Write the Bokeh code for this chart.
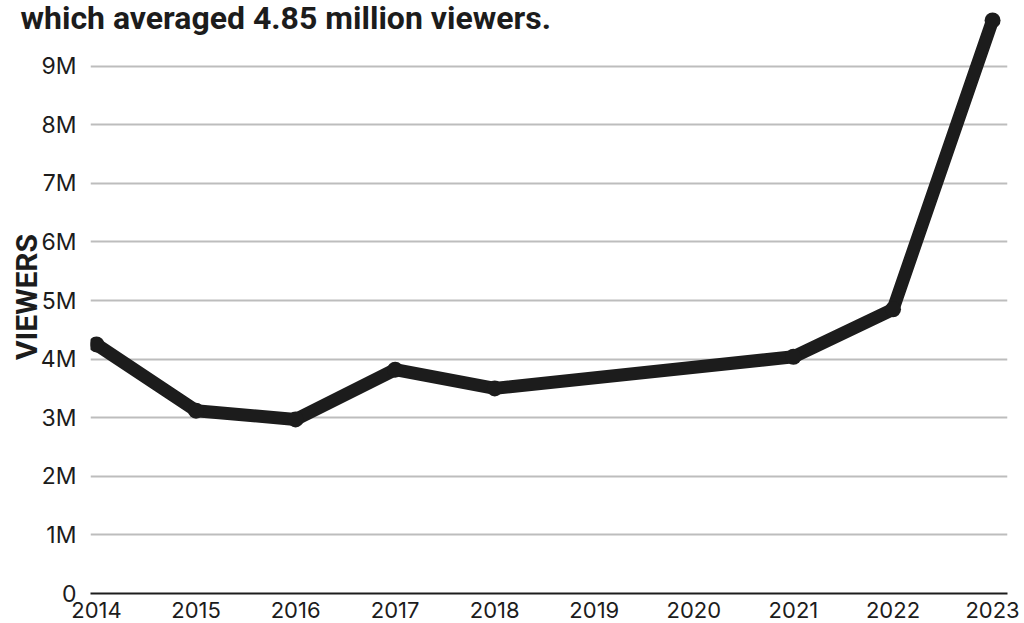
from bokeh.plotting import figure
from bokeh.models import FixedTicker, Range1d
from bokeh.embed import file_html
from bokeh.resources import INLINE

# Data (viewers, millions)
years = [2014, 2015, 2016, 2017, 2018, 2021, 2022, 2023]
viewers = [4.25, 3.12, 2.97, 3.82, 3.50, 4.04, 4.85, 9.78]

x_ticks = [2014, 2015, 2016, 2017, 2018, 2019, 2020, 2021, 2022, 2023]
y_ticks = [0, 1, 2, 3, 4, 5, 6, 7, 8, 9]
y_tick_labels = ["0", "1M", "2M", "3M", "4M", "5M", "6M", "7M", "8M", "9M"]
title_text = "which averaged 4.85 million viewers."
y_label = "VIEWERS"

FONT = "Roboto"
TICK_FONT = "Inter"
INK = "#1c1c1c"

p = figure(width=1024, height=623, output_backend="svg", toolbar_location=None,
           x_range=Range1d(2013.94, 2023.15), y_range=Range1d(0, 10.12),
           min_border_left=90, min_border_right=17, min_border_top=0,
           min_border_bottom=30, title=title_text)
p.outline_line_color = None
p.background_fill_color = "white"
p.border_fill_color = "white"

p.title.align = "left"
p.title.vertical_align = "bottom"
p.title.text_font = FONT
p.title.text_font_style = "bold"
p.title.text_font_size = "32px"
p.title.text_color = INK
p.title.standoff = -72
p.title.offset = -70

p.xgrid.grid_line_color = None
p.ygrid.grid_line_color = "#bdbdbd"
p.ygrid.grid_line_width = 2

p.xaxis.ticker = FixedTicker(ticks=x_ticks)
p.xaxis.major_label_overrides = {y: str(y) for y in x_ticks}
p.xaxis.axis_line_color = INK
p.xaxis.axis_line_width = 2
p.xaxis.major_tick_line_color = None
p.xaxis.minor_tick_line_color = None
p.xaxis.major_label_standoff = 2
p.xaxis.major_label_text_font = TICK_FONT
p.xaxis.major_label_text_font_size = "22px"
p.xaxis.major_label_text_color = INK

p.yaxis.ticker = FixedTicker(ticks=y_ticks)
p.yaxis.major_label_overrides = {t: l for t, l in zip(y_ticks, y_tick_labels)}
p.yaxis.axis_line_color = None
p.yaxis.major_tick_line_color = None
p.yaxis.minor_tick_line_color = None
p.yaxis.major_label_standoff = 8
p.yaxis.major_label_text_font = TICK_FONT
p.yaxis.major_label_text_font_size = "23px"
p.yaxis.major_label_text_color = INK
p.yaxis.axis_label = y_label
p.yaxis.axis_label_text_font = FONT
p.yaxis.axis_label_text_font_style = "bold"
p.yaxis.axis_label_text_font_size = "30px"
p.yaxis.axis_label_text_color = INK
p.yaxis.axis_label_standoff = -6

p.line(years, viewers, line_color=INK, line_width=13, line_join="round", line_cap="round")
p.scatter(years, viewers, size=16, fill_color=INK, line_color=None)

open("out.html", "w").write(file_html(p, INLINE))
